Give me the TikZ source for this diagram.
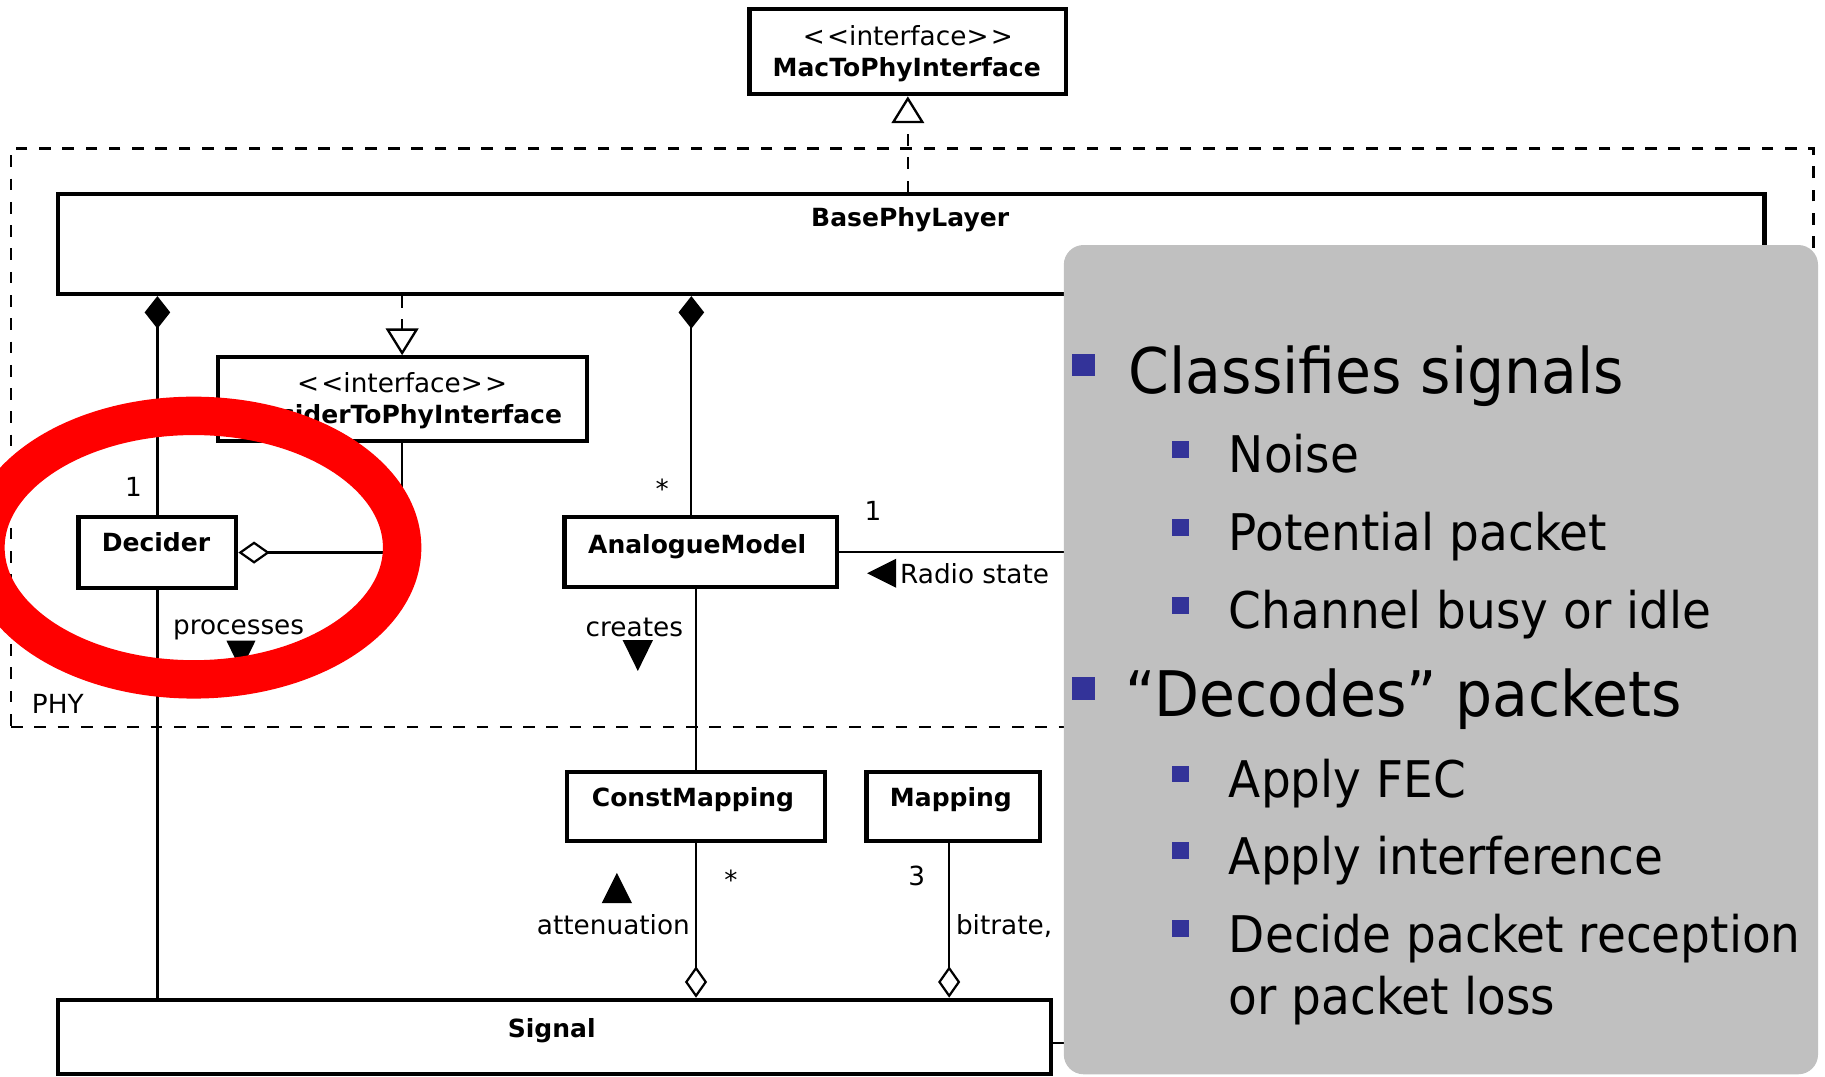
\documentclass[tikz,border=0pt]{standalone}
\usepackage{fontspec}
\setmainfont{DejaVu Sans}
\newfontfamily\panelfont[FakeStretch=0.93]{DejaVu Sans}
\usetikzlibrary{arrows.meta,calc}
\definecolor{panelgray}{HTML}{C0C0C0}
\definecolor{bulletblue}{HTML}{333399}
\definecolor{ringred}{HTML}{FF0000}
\begin{document}
\begin{tikzpicture}[x=0.5pt,y=-0.5pt,
  cls/.style={draw, line width=1.8pt, inner sep=0pt},
  nm/.style={font=\fontsize{10.75}{12}\selectfont\bfseries, inner sep=0pt, anchor=base},
  lb/.style={font=\fontsize{11.3}{13}\selectfont, inner sep=0pt, anchor=base},
  conn/.style={line width=0.95pt},
  realiz/.style={line width=1pt, dash pattern=on 5pt off 5pt},
  compo/.style={conn, {Diamond[length=14pt,width=11pt]}-},
  aggr/.style={conn, -{Diamond[length=13.5pt,width=9.5pt,fill=white]}},
  gen/.style={realiz, -{Triangle[open,length=11.5pt,width=14pt]}},
  bone/.style={fill=bulletblue, minimum size=9.75pt, inner sep=0pt},
  btwo/.style={fill=bulletblue, minimum size=7.25pt, inner sep=0pt},
  pone/.style={font=\panelfont\fontsize{27}{32}\selectfont, inner sep=0pt, anchor=base west},
  ptwo/.style={font=\panelfont\fontsize{21.7}{27}\selectfont, inner sep=0pt, anchor=base west}
]
\useasboundingbox (0,0) rectangle (1568,925);

% PHY package
\node[draw, realiz, minimum width=774.25pt, minimum height=248.5pt, inner sep=0pt] (phy) at (783.75,376) {};
\node[lb, anchor=base west] (lphy) at (27,613) {PHY};

% classes
\node[cls, minimum width=136pt, minimum height=36.5pt] (mac) at (780,44.5) {};
\node[cls, minimum width=733.25pt, minimum height=42.8pt] (base) at (782.75,209.8) {};
\node[cls, minimum width=158.5pt, minimum height=36pt] (d2p) at (345.5,343) {};
\node[cls, minimum width=67.75pt, minimum height=30.25pt] (decider) at (135.25,474.75) {};
\node[cls, minimum width=117pt, minimum height=30.25pt] (analog) at (602,474.25) {};
\node[cls, minimum width=111pt, minimum height=29.65pt] (constmap) at (598,692.6) {};
\node[cls, minimum width=74.5pt, minimum height=29.65pt] (mapping) at (819,692.6) {};
\node[cls, minimum width=426.75pt, minimum height=32pt] (signal) at (476.25,891) {};

% class texts
\node[lb] (macst) at (780,39.5) {<\kern1pt<interface>\kern1pt>};
\node[nm] (macnm) at (779,66) {MacToPhyInterface};
\node[nm] (basenm) at (782,195) {BasePhyLayer};
\node[lb] (d2pst) at (345.5,337) {<\kern1pt<interface>\kern1pt>};
\node[nm] (d2pnm) at (345.5,364) {DeciderToPhyInterface};
\node[nm] (decnm) at (134,474) {Decider};
\node[nm] (anm) at (599,475.5) {AnalogueModel};
\node[nm] (cmnm) at (595.4,693) {ConstMapping};
\node[nm] (mnm) at (817,693) {Mapping};
\node[nm] (signm) at (474,891) {Signal};

% connectors
\draw[gen] (mac.south |- base.north) -- (mac.south);
\draw[gen] (d2p.north |- base.south) -- (d2p.north);
\draw[compo] (decider.north |- base.south) -- (decider.north);
\coordinate (ac) at ($(analog.north)+(-8,0)$);
\draw[compo] (ac |- base.south) -- (ac);
\draw[conn, -{Diamond[length=13.5pt,width=9.5pt,fill=white]}] (d2p.south) |- (decider.east);
\draw[conn] (decider.south) -- (decider.south |- signal.north);
\draw[conn] (analog.south -| constmap.north) -- (constmap.north);
\coordinate (ar) at (945,474.25);
\draw[conn] (analog.east) -- (ar);
\draw[aggr] (constmap.south) -- (constmap.south |- signal.north);
\coordinate (mp) at ($(mapping.south)+(-3.5,0)$);
\draw[aggr] (mp) -- (mp |- signal.north);
\coordinate (sr) at (945,896);
\draw[conn] (signal.east |- sr) -- (sr);

% multiplicities and labels
\node[lb] (m1) at (114.6,427) {1};
\node[lb] (m2) at (569,428) {*};
\node[lb] (m3) at (750,447.5) {1};
\node[lb] (m4) at (628,764) {*};
\node[lb] (m5) at (787.6,760.5) {3};
\node[lb] (lproc) at (205,545) {processes};
\node[lb] (lcre) at (545,546.5) {creates};
\node[lb] (latt) at (527,803) {attenuation};
\node[lb, anchor=base west] (lrad) at (773,501) {Radio state};
\node[lb, anchor=base west] (lbit) at (821,803) {bitrate,};
\fill (194.6,550.5) -- (219.5,550.5) -- (207,576) -- cycle;
\fill (535,550) -- (561,550) -- (548,576.5) -- cycle;
\fill (517,776) -- (543,776) -- (530,750) -- cycle;
\fill (770,480) -- (770,505) -- (745,492.5) -- cycle;

% red highlight ring
\draw[ringred, line width=16.5pt] (166.5,470.5) ellipse [x radius=89.5pt, y radius=56.6pt];

% grey panel
\node[fill=panelgray, rounded corners=8.5pt, minimum width=324pt, minimum height=356.25pt, inner sep=0pt] (panel) at (1238,566.75) {};
\node[bone] (bu1) at (931,313.5) {};
\node[bone] (bu2) at (931,591.5) {};
\node[btwo] (bs1) at (1014,386) {};
\node[btwo] (bs2) at (1014,453) {};
\node[btwo] (bs3) at (1014,520) {};
\node[btwo] (bs4) at (1014,665) {};
\node[btwo] (bs5) at (1014,731) {};
\node[btwo] (bs6) at (1014,798) {};
\node[pone] (t1) at (969.5,338) {Classifies signals};
\node[ptwo] (t2) at (1055.5,406) {Noise};
\node[ptwo] (t3) at (1055.5,473) {Potential packet};
\node[ptwo] (t4) at (1055.5,540) {Channel busy or idle};
\node[pone] (t5) at (967,616) {“Decodes” packets};
\node[ptwo] (t6) at (1055.5,685) {Apply FEC};
\node[ptwo] (t7) at (1055.5,751) {Apply interference};
\node[ptwo] (t8) at (1055.5,818) {Decide packet reception};
\node[ptwo] (t9) at (1055.5,872) {or packet loss};
\end{tikzpicture}
\end{document}
